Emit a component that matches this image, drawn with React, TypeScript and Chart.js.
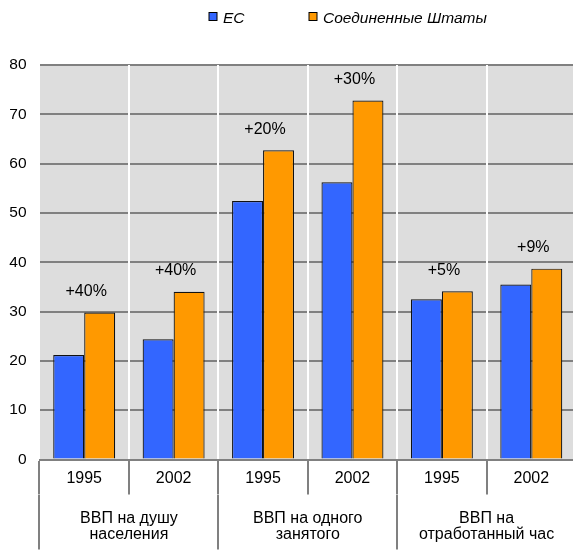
import React, { useEffect, useRef } from 'react';
import { Chart, registerables } from 'chart.js';

Chart.register(...registerables);

const yearLabels = ['1995', '2002', '1995', '2002', '1995', '2002'];
const groupLabels = [
  ['ВВП на душу', 'населения'],
  ['ВВП на одного', 'занятого'],
  ['ВВП на', 'отработанный час'],
];
const seriesNames = ['ЕС', 'Соединенные Штаты'];
const euValues = [21.2, 24.4, 52.4, 56.2, 32.5, 35.5];
const usValues = [29.8, 34.0, 62.7, 72.8, 34.1, 38.7];
const growthLabels = ['+40%', '+40%', '+20%', '+30%', '+5%', '+9%'];
const yMin = 0;
const yMax = 80;
const yStep = 10;

const FONT = '"Liberation Sans", Arial, sans-serif';
const BLUE = '#3366FF';
const ORANGE = '#FF9900';
const GRID = '#808080';

const bgPlugin = {
  id: 'plotBg',
  beforeDraw(chart: any) {
    const { ctx, chartArea } = chart;
    ctx.save();
    ctx.fillStyle = '#DDDDDD';
    ctx.fillRect(chartArea.left, chartArea.top, chartArea.right - chartArea.left, chartArea.bottom - chartArea.top);
    ctx.restore();
  },
};

const legendPlugin = {
  id: 'customLegend',
  afterDraw(chart: any) {
    const { ctx } = chart;
    const xs = [209, 309];
    ctx.save();
    ctx.font = `italic 15.5px ${FONT}`;
    ctx.textBaseline = 'alphabetic';
    ctx.textAlign = 'left';
    chart.data.datasets.forEach((ds: any, i: number) => {
      const x = xs[i];
      ctx.fillStyle = ds.backgroundColor;
      ctx.fillRect(x, 12.5, 8, 8);
      ctx.strokeStyle = '#000';
      ctx.lineWidth = 1;
      ctx.strokeRect(x, 12.5, 8, 8);
      ctx.fillStyle = '#000';
      ctx.fillText(ds.label, x + 14, 23);
    });
    ctx.restore();
  },
};

const growthPlugin = {
  id: 'growthLabels',
  afterDatasetsDraw(chart: any) {
    const { ctx } = chart;
    const xScale = chart.scales.x;
    ctx.save();
    ctx.font = `16px ${FONT}`;
    ctx.fillStyle = '#000';
    ctx.textAlign = 'center';
    ctx.textBaseline = 'middle';
    growthLabels.forEach((lbl, i) => {
      let top = Infinity;
      chart.data.datasets.forEach((_: any, d: number) => {
        const el = chart.getDatasetMeta(d).data[i];
        if (el && el.y < top) top = el.y;
      });
      ctx.fillText(lbl, xScale.getPixelForValue(i) + 2, top - 21);
    });
    ctx.restore();
  },
};

export default function App() {
  const ref = useRef<HTMLCanvasElement | null>(null);

  useEffect(() => {
    if (!ref.current) return;
    const chart = new Chart(ref.current, {
      type: 'bar',
      data: {
        labels: yearLabels,
        datasets: [
          {
            label: seriesNames[0],
            data: euValues,
            backgroundColor: BLUE,
            borderColor: '#111',
            borderWidth: 1.2,
            categoryPercentage: 0.693,
            barPercentage: 1,
            xAxisID: 'x',
          },
          {
            label: seriesNames[1],
            data: usValues,
            backgroundColor: ORANGE,
            borderColor: '#111',
            borderWidth: 1.2,
            categoryPercentage: 0.693,
            barPercentage: 1,
            xAxisID: 'x',
          },
        ],
      },
      options: {
        responsive: false,
        animation: false,
        layout: { padding: { top: 65, right: 0, bottom: 0.5, left: 0 } },
        plugins: {
          legend: { display: false },
          tooltip: { enabled: false },
        },
        scales: {
          x: {
            type: 'category',
            position: 'bottom',
            weight: 0,
            offset: true,
            grid: {
              offset: true,
              color: '#FFFFFF',
              lineWidth: 2,
              drawTicks: true,
              tickLength: 35,
              tickColor: GRID,
              tickWidth: 2,
              z: -1,
            },
            border: { display: true, color: GRID, width: 2, z: 1 },
            ticks: {
              padding: -25.5,
              color: '#000',
              font: { family: FONT, size: 16 },
              autoSkip: false,
              maxRotation: 0,
            },
            afterFit: (s: any) => {
              s.height = 35;
            },
          },
          x2: {
            type: 'category',
            labels: groupLabels as any,
            position: 'bottom',
            weight: 1,
            offset: true,
            grid: {
              offset: true,
              drawOnChartArea: false,
              drawTicks: true,
              tickLength: 55,
              color: GRID,
              lineWidth: 2,
              tickColor: GRID,
              tickWidth: 2,
            },
            border: { display: false },
            ticks: {
              padding: -39.25,
              color: '#000',
              font: { family: FONT, size: 16, lineHeight: 1.03 },
              autoSkip: false,
              maxRotation: 0,
            },
            afterFit: (s: any) => {
              s.height = 57;
            },
          },
          y: {
            min: yMin,
            max: yMax,
            ticks: {
              stepSize: yStep,
              padding: 13,
              color: '#000',
              font: { family: FONT, size: 15.5 },
            },
            grid: { color: GRID, lineWidth: 2, drawTicks: false, z: -2 },
            border: { display: false },
            afterFit: (s: any) => {
              s.width = 39.5;
            },
          },
        },
      } as any,
      plugins: [bgPlugin, legendPlugin, growthPlugin],
    });
    return () => chart.destroy();
  }, []);

  return (
    <div
      style={{
        position: 'absolute',
        left: 0,
        top: 0,
        width: 573,
        height: 552,
        overflow: 'hidden',
        background: '#fff',
      }}
    >
      <canvas ref={ref} width={576} height={552} style={{ display: 'block' }} />
    </div>
  );
}
